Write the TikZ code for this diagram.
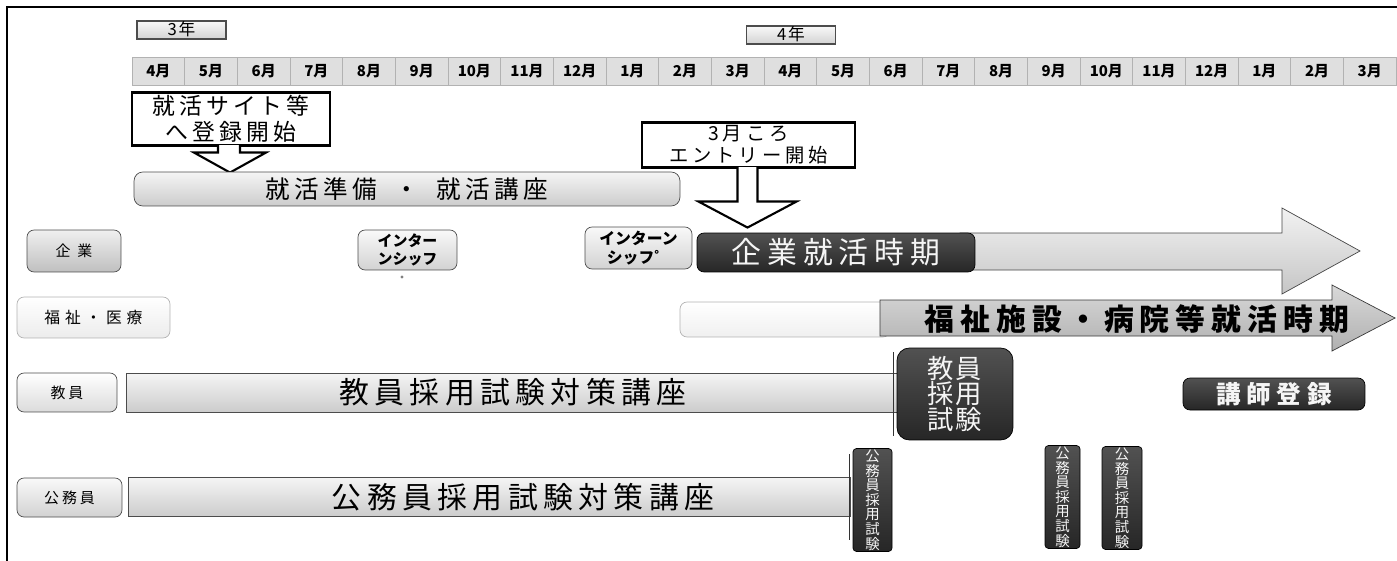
\documentclass[tikz,border=0pt]{standalone}
\usepackage{fontspec}
\setmainfont{Noto Sans CJK JP}
\usepackage{tikz}
\usetikzlibrary{calc}
\newcommand{\ls}[1]{\addfontfeature{LetterSpace=#1}}
\newcommand{\fs}[1]{\fontsize{#1}{#1}\selectfont}
\tikzstyle{mon}=[draw=gray!60, fill=gray!25, minimum width=1.053cm, minimum height=0.56cm, inner sep=0pt, font=\bfseries\fs{8.5}]
\tikzstyle{yr}=[draw=black!70, line width=0.8pt, top color=gray!5, bottom color=gray!35, minimum width=1.78cm, minimum height=0.36cm, inner sep=0pt, text height=5.8pt, text depth=0pt, font=\fs{9.5}\ls{10}]
\tikzstyle{lab}=[draw=gray!60!black, rounded corners=4pt, inner sep=0pt, align=center]
\tikzstyle{bar}=[draw=gray!60!black, top color=gray!8, bottom color=gray!40, inner sep=0pt, minimum height=0.78cm]
\tikzstyle{dark}=[draw=black, top color=black!68, bottom color=black!85, text=gray!8, rounded corners=4pt, inner sep=0pt, align=center]
\tikzstyle{vert}=[dark, rounded corners=2pt, minimum height=2.06cm, font=\fontsize{8.2}{8.33}\selectfont]
\tikzstyle{call}=[draw=black, line width=1.2pt, fill=white, inner sep=0pt, align=center]
\tikzstyle{tip}=[draw=black, line width=1.2pt, fill=white]

\begin{document}
\begin{tikzpicture}[x=0.02cm, y=-0.02cm]
    \useasboundingbox (0,0) rectangle (1397,561);
    \draw[line width=1.2pt] (7,561) -- (7,7) -- (1397,7);

    % years and months
    \node[yr] (Y3) at (181.5,30) {3年};
    \node[yr] (Y4) at (791,35) {4年};
    \foreach \m [count=\i] in {4,5,6,7,8,9,10,11,12,1,2,3,4,5,6,7,8,9,10,11,12,1,2,3} {
        \node[mon] (M\i) at (105.67+52.667*\i, 71) {{\m}月};
    }

    % callouts
    \node[call, minimum width=3.96cm, minimum height=1.06cm, font=\fontsize{13}{15}\selectfont\ls{18}] (C1) at (231,119)
        {就活サイト等\\へ登録開始};
    \filldraw[tip] ($(C1.south)+(-13,-1.5)$) -- ++(0,7.5) -- ++(-24,0) -- ($(C1.south)+(-1,26)$)
        -- ($(C1.south)+(35,6)$) -- ++(-26,0) -- ++(0,-7.5);
    \node[call, minimum width=4.26cm, minimum height=0.9cm, font=\fontsize{11}{12.5}\selectfont\ls{20}] (C2) at (748.5,145)
        {3月ころ\\エントリー開始};

    \node[bar, rounded corners=5pt, minimum width=10.92cm, minimum height=0.68cm, font=\fs{14}\ls{18}] (P) at (407,189)
        {就活準備\hspace{0.7em}・\hspace{0.7em}就活講座};
    \filldraw[tip] ($(C2.south)+(-11,-1.5)$) -- ($(C2.south)+(-11,33)$) -- ($(C2.south)+(-50,33)$)
        -- ($(C2.south)+(-1,59)$) -- ($(C2.south)+(48,33)$) -- ($(C2.south)+(9,33)$) -- ($(C2.south)+(9,-1.5)$);

    % kigyou
    \node[lab, top color=gray!12, bottom color=gray!50, minimum width=1.88cm, minimum height=0.84cm, font=\fs{8.5}\ls{45}] (K) at (74,251) {企業};
    \node[lab, top color=gray!5, bottom color=gray!35, minimum width=1.98cm, minimum height=0.8cm, font=\bfseries\fontsize{8.5}{10}\selectfont] (I1) at (407.5,250)
        {インター\\ンシッフ};
    \node[circle, fill=gray, inner sep=0.7pt] (d) at (402,277) {};
    \node[lab, top color=gray!5, bottom color=gray!35, minimum width=2.14cm, minimum height=0.84cm, font=\bfseries\fontsize{9}{10.5}\selectfont] (I2) at (638.5,248)
        {インターン\\シッフ゜};
    \draw[draw=gray!55!black, top color=gray!10, bottom color=gray!45] (960,233) -- (1282,233) -- (1282,208) -- (1360,251)
        -- (1282,294) -- (1282,270) -- (960,270) -- cycle;
    \node[dark, minimum width=5.56cm, minimum height=0.78cm, font=\fs{17}\ls{20}] (KS) at (836,252.5) {企業就活時期};

    % fukushi
    \node[lab, draw=gray!60, top color=white, bottom color=gray!15, minimum width=3.06cm, minimum height=0.82cm, font=\fs{9}\ls{30}] (F) at (93.5,317.5) {福祉・医療};
    \node[lab, draw=gray!60, top color=white, bottom color=gray!12, minimum width=4.2cm, minimum height=0.7cm] (FL) at (785,319.5) {};
    \draw[draw=gray!45!black, top color=gray!30, bottom color=gray!62] (880,300) -- (1332,300) -- (1332,285) -- (1395,318)
        -- (1332,351) -- (1332,336) -- (880,336) -- cycle;
    \node[font=\bfseries\fs{17}\ls{20}] (FS) at (1137,319) {福祉施設・病院等就活時期};

    % kyouin
    \node[lab, top color=white, bottom color=gray!28, minimum width=2cm, minimum height=0.78cm, font=\fs{8.5}\ls{20}] (T) at (67,392.5) {教員};
    \node[bar, minimum width=15.48cm, font=\fs{17}\ls{18}] (TB) at (513,392.5) {教員採用試験対策講座};
    \draw[gray!40!black] (893,352) -- (893,436);
    \node[dark, rounded corners=7pt, minimum width=2.32cm, minimum height=1.84cm, font=\fontsize{15}{14.5}\selectfont\ls{5}] (TE) at (955,394)
        {教員\\採用\\試験};
    \node[dark, minimum width=3.64cm, minimum height=0.64cm, font=\bfseries\fs{14}\ls{23}] (KT) at (1274,394) {講師登録};

    % koumuin
    \node[lab, top color=gray!5, bottom color=gray!35, minimum width=2.1cm, minimum height=0.78cm, font=\fs{8.5}\ls{20}] (G) at (69.5,497.5) {公務員};
    \node[bar, minimum width=14.44cm] (GB) at (489,497) {};
    \node[font=\fs{17}\ls{18}] (GT) at (523,497) {公務員採用試験対策講座};
    \draw[gray!40!black] (849,454) -- (849,540);
    \node[vert, minimum width=0.78cm] (V1) at (872.5,500) {公\\務\\員\\採\\用\\試\\験};
    \node[vert, minimum width=0.7cm] (V2) at (1062.5,497) {公\\務\\員\\採\\用\\試\\験};
    \node[vert, minimum width=0.8cm] (V3) at (1122,498) {公\\務\\員\\採\\用\\試\\験};
\end{tikzpicture}
\end{document}
